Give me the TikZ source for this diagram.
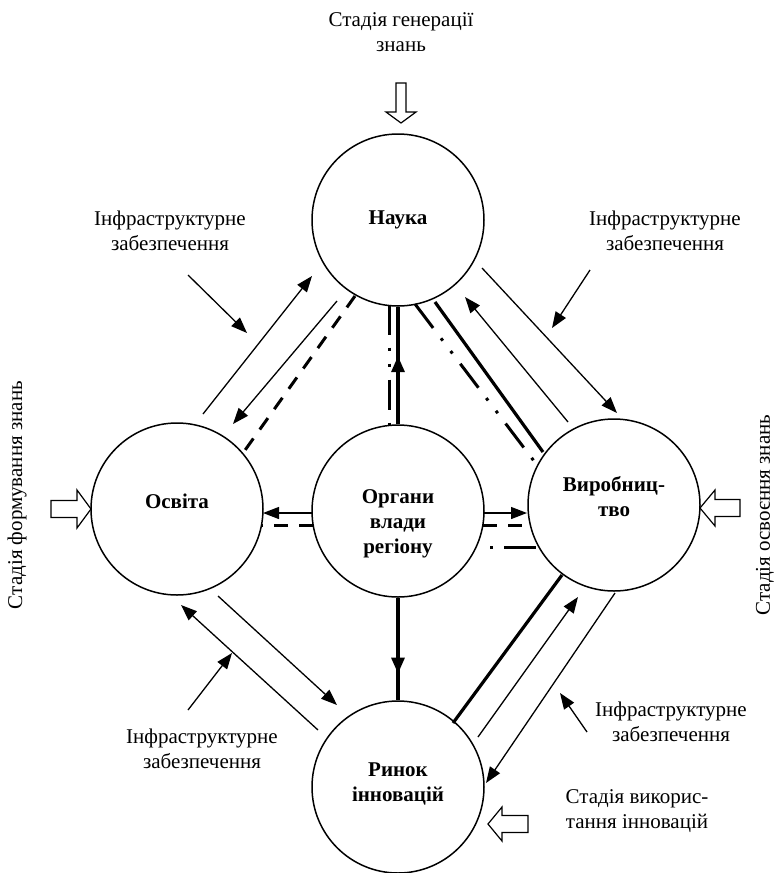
\documentclass[tikz,border=0pt]{standalone}
\usepackage{fontspec}
\setmainfont{Liberation Serif}
\usetikzlibrary{arrows.meta,calc,decorations.markings}
\begin{document}
\begin{tikzpicture}[x=1pt,y=-1pt,
  circ/.style={circle,draw,line width=1.5pt,minimum size=172pt,inner sep=0pt},
  bold/.style={font=\fontsize{21}{25}\selectfont\bfseries,align=center,inner sep=0pt},
  txt/.style={font=\fontsize{21}{25}\selectfont,align=center,inner sep=0pt},
  thinl/.style={line width=1.3pt},
  arr/.style={thinl,-{Triangle[length=16pt,width=12pt]}},
  thickl/.style={line width=3.2pt},
  tdash/.style={line width=3pt,dash pattern=on 14pt off 11pt},
  ddd/.style={line width=3pt,dash pattern=on 30pt off 13pt on 3pt off 13pt on 3pt off 13pt},
  blk/.style={draw,line width=1.2pt,fill=white,line join=miter},
  midarrow/.style={postaction={decorate},decoration={markings,mark=at position #1 with {\arrow{Triangle[length=16pt,width=13pt]}}}}
]
\useasboundingbox (0,0) rectangle (776,873);

% circles
\node[circ] (N) at (398,220) {};
\node[circ] (O) at (177,509) {};
\node[circ] (G) at (398,511) {};
\node[circ] (V) at (614,505) {};
\node[circ] (R) at (398,787) {};

\node[bold] (Nt) at ($(N)+(0,0)$) {Наука};
\node[bold] (Ot) at ($(O)+(0,-8)$) {Освіта};
\node[bold] (Gt) at ($(G)+(0,13)$) {Органи\\влади\\регіону};
\node[bold] (Vt) at ($(V)+(0,-8)$) {Виробниц-\\тво};
\node[bold] (Rt) at ($(R)+(0,-3)$) {Ринок\\інновацій};

% Наука - Освіта
\draw[arr] ($(O)+(26,-95)$) -- ($(N)+(-86,56)$);
\draw[arr] ($(N)+(-61,81)$) -- ($(O)+(56,-85)$);
\draw[tdash] ($(N)+(-43,76)$) -- ($(O)+(66,-56)$);

% Наука - Виробництво
\draw[arr] ($(N)+(84,48)$) -- ($(V)+(3,-92)$);
\draw[arr] ($(V)+(-46,-83)$) -- ($(N)+(67,77)$);
\draw[thickl] ($(N)+(37,82)$) -- ($(V)+(-71,-53)$);
\draw[ddd] ($(N)+(17,84)$) -- ($(V)+(-77,-40)$);

% Наука - Органи
\draw[ddd] ($(N)+(-9,84.5)$) -- ($(G)+(-9,-85.5)$);
\draw[thickl,midarrow=0.58] (G.north) -- (N.south);

% Органи - Освіта
\draw[arr] ($(G)+(-86,2)$) -- ($(O)+(86,4)$);
\draw[tdash] ($(G)+(-85,14)$) -- ($(O)+(84,16)$);

% Органи - Виробництво
\draw[arr] ($(G)+(86,2)$) -- ($(V)+(-87,8)$);
\draw[tdash] ($(G)+(85,14)$) -- ($(V)+(-85,20)$);
\draw[line width=3pt,dash pattern=on 3pt off 11pt on 32pt off 10pt] ($(G)+(92,36)$) -- ($(V)+(-76,42)$);

% Органи - Ринок
\draw[thickl,midarrow=0.74] (G.south) -- (R.north);

% Освіта - Ринок
\draw[arr] ($(O)+(41,87)$) -- ($(R)+(-61,-82)$);
\draw[arr] ($(R)+(-80,-57)$) -- ($(O)+(4,96)$);

% Виробництво - Ринок
\draw[thickl] ($(V)+(-52,70)$) -- ($(R)+(55,-64)$);
\draw[arr] ($(R)+(80,-50)$) -- ($(V)+(-36,92)$);
\draw[arr] ($(V)+(1,88)$) -- ($(R)+(88,-4)$);

% infrastructure arrows
\coordinate (ul1) at (188,275); \coordinate (ul2) at (247,333);
\coordinate (ur1) at (590,270); \coordinate (ur2) at (552,328);
\coordinate (ll1) at (188,710); \coordinate (ll2) at (232,653);
\coordinate (lr1) at (587,732); \coordinate (lr2) at (560,693);
\draw[arr] (ul1) -- (ul2);
\draw[arr] (ur1) -- (ur2);
\draw[arr] (ll1) -- (ll2);
\draw[arr] (lr1) -- (lr2);

\node[txt] (tul) at (170,231) {Інфраструктурне\\забезпечення};
\node[txt] (tur) at (665,231) {Інфраструктурне\\забезпечення};
\node[txt] (tll) at (202,749) {Інфраструктурне\\забезпечення};
\node[txt] (tlr) at (671,722) {Інфраструктурне\\забезпечення};

% stage texts
\node[txt] (st) at (401,32) {Стадія генерації\\знань};
\node[txt,rotate=90] (sl) at (17,495) {Стадія формування знань};
\node[txt,rotate=90] (sr) at (765,515) {Стадія освоєння знань};
\node[txt] (sb) at (637,811) {Стадія викорис-\\тання інновацій};

% block arrows
\draw[blk] (396,83) -- (406,83) -- (406,112) -- (416,112) -- (401,123) -- (386,112) -- (396,112) -- cycle;
\draw[blk] (51,500.5) -- (77,500.5) -- (77,490) -- (91,509) -- (77,528) -- (77,517.5) -- (51,517.5) -- cycle;
\draw[blk] (740,499.5) -- (715,499.5) -- (715,490) -- (700,508) -- (715,526) -- (715,516.5) -- (740,516.5) -- cycle;
\draw[blk] (528,815.5) -- (502,815.5) -- (502,807) -- (488,824) -- (502,841) -- (502,832.5) -- (528,832.5) -- cycle;
\end{tikzpicture}
\end{document}
